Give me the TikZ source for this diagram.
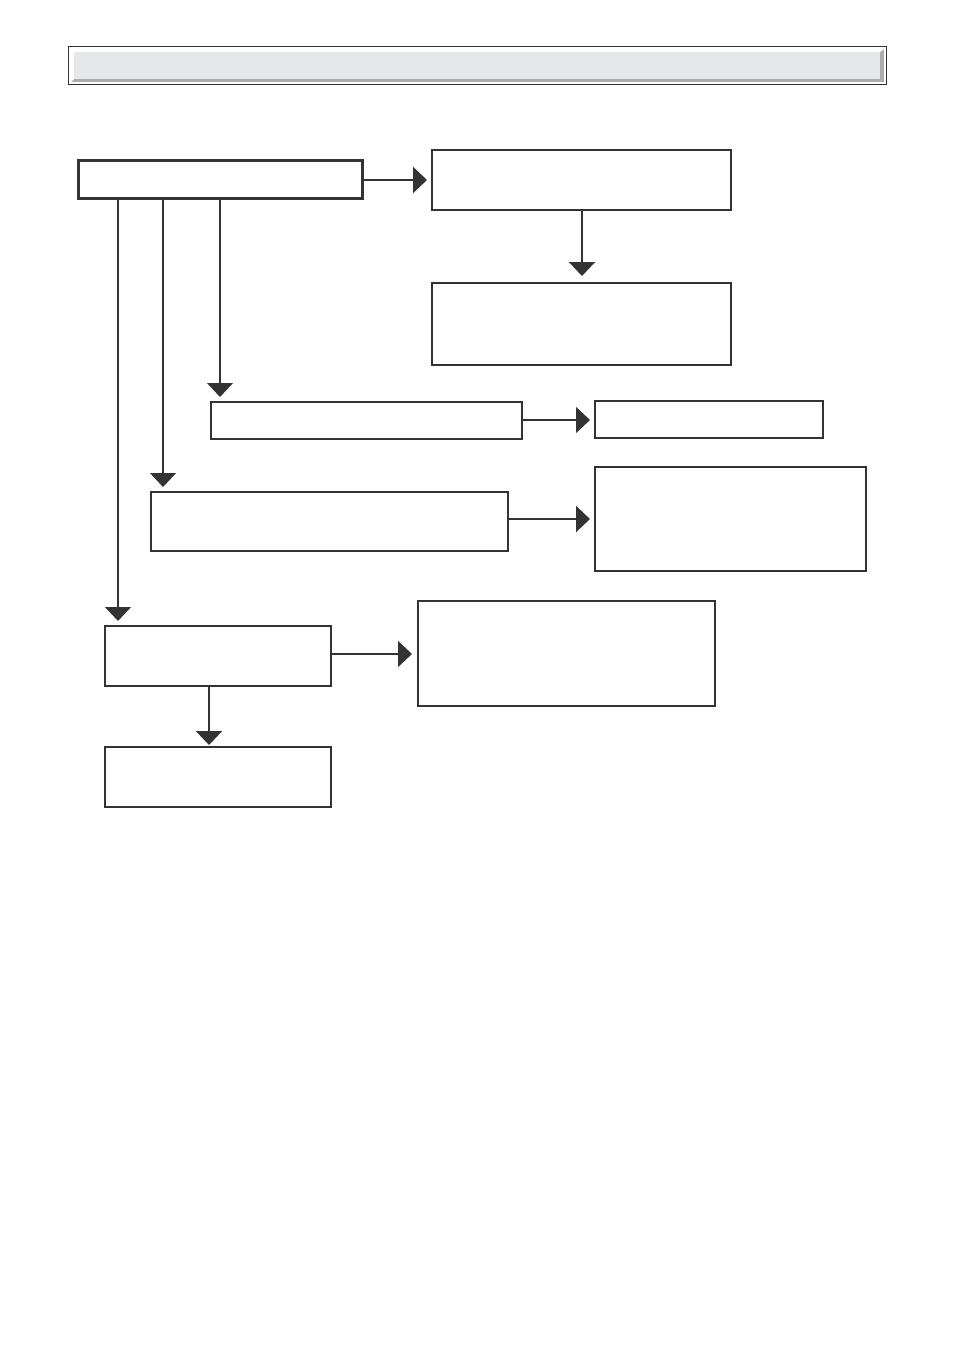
\documentclass[tikz,border=0pt]{standalone}
\usetikzlibrary{arrows.meta}
\definecolor{ink}{HTML}{333333}
\definecolor{barfill}{HTML}{E6E7E8}
\definecolor{barshade}{HTML}{ABACAD}
\tikzset{
  box/.style={draw=ink, line width=1.6pt, fill=white, inner sep=0pt, anchor=north west},
  thickbox/.style={box, line width=3pt},
  conn/.style={draw=ink, line width=1.3pt, -{Triangle[length=14pt,width=26pt]}, color=ink},
  connthick/.style={conn, line width=2.4pt},
}
\newcommand{\pbox}[6]{\node[#1, minimum width=#4pt, minimum height=#5pt] (#2) at (#3) {#6};}
\begin{document}
\begin{tikzpicture}[x=1pt,y=-1pt]
\useasboundingbox (0,0) rectangle (954,1350);
% header bar
\fill[white] (68,46) rectangle (886,84);
\fill[barshade] (71,49) rectangle (884,82);
\fill[white] (71,49) -- (884,49) -- (880,52) -- (74,52) -- (74,79) -- (71,82) -- cycle;
\fill[barfill] (74,52) rectangle (880,79);
\draw[ink, line width=1pt] (68,46) rectangle (886,84);
% boxes
\pbox{thickbox}{A}{77,159}{284}{38}{}
\pbox{box}{B}{431,149}{299}{60}{}
\pbox{box}{C}{431,282}{299}{82}{}
\pbox{box}{D}{210,401}{311}{37}{}
\pbox{box}{E}{594,400}{228}{37}{}
\pbox{box}{F}{150,491}{357}{59}{}
\pbox{box}{G}{594,466}{271}{104}{}
\pbox{box}{H}{104,625}{226}{60}{}
\pbox{box}{I}{417,600}{297}{105}{}
\pbox{box}{J}{104,746}{226}{60}{}
% x positions of drops
\coordinate (xD) at (220,0);
\coordinate (xF) at (163,0);
\coordinate (xH) at (118,0);
\coordinate (xB) at (582,0);
\coordinate (xJ) at (209,0);
\coordinate (yAB) at (0,180);
\coordinate (yDE) at (0,420);
\coordinate (yFG) at (0,519);
\coordinate (yHI) at (0,654);
% connectors
\draw[connthick] (A.east |- yAB) -- ([xshift=-4pt]B.west |- yAB);
\draw[connthick] (B.south -| xB) -- ([yshift=6pt]C.north -| xB);
\draw[conn] (A.south -| xD) -- ([yshift=4pt]D.north -| xD);
\draw[conn] (A.south -| xF) -- ([yshift=4pt]F.north -| xF);
\draw[conn] (A.south -| xH) -- ([yshift=4pt]H.north -| xH);
\draw[conn] (D.east |- yDE) -- ([xshift=-4pt]E.west |- yDE);
\draw[connthick] (F.east |- yFG) -- ([xshift=-4pt]G.west |- yFG);
\draw[conn] (H.east |- yHI) -- ([xshift=-5pt]I.west |- yHI);
\draw[connthick] (H.south -| xJ) -- ([yshift=1pt]J.north -| xJ);
\end{tikzpicture}
\end{document}
